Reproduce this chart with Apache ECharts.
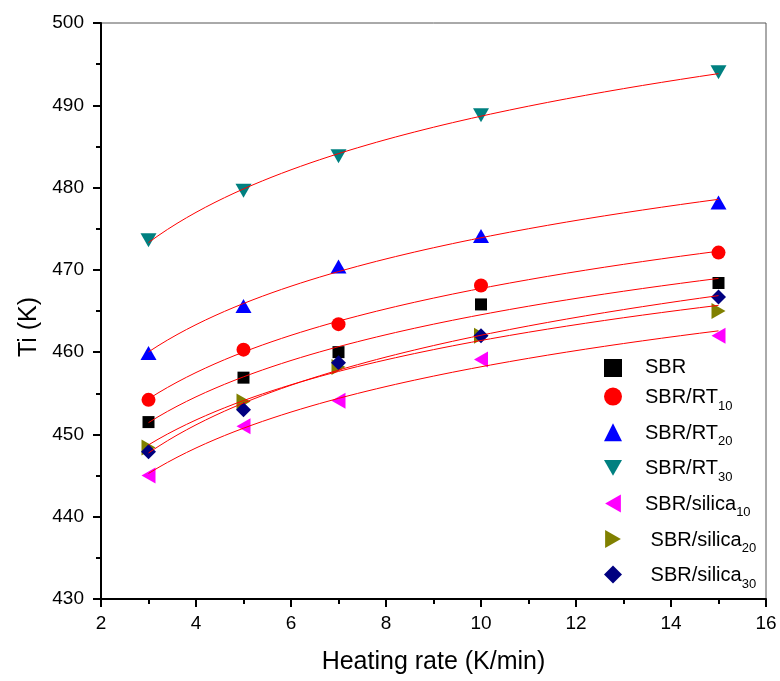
<!DOCTYPE html>
<html>
<head>
<meta charset="utf-8">
<style>
  html, body { margin: 0; padding: 0; background: #fff; }
  #chart { width: 780px; height: 681px; }
</style>
<script src="https://cdn.jsdelivr.net/npm/echarts@6/dist/echarts.min.js"></script>
</head>
<body>
<div id="chart"></div>
<script>
// Heating rates (K/min)
const heatingRates = [3, 5, 7, 10, 15];

// Initial degradation temperature Ti (K) for each compound
const tiSBR        = [451.5, 456.9, 460.0, 465.8, 468.4];
const tiRT10       = [454.2, 460.3, 463.4, 468.1, 472.1];
const tiRT20       = [459.9, 465.6, 470.4, 474.1, 478.2];
const tiRT30       = [473.6, 479.6, 483.8, 488.8, 494.0];
const tiSilica10   = [445.0, 451.0, 454.1, 459.1, 462.0];
const tiSilica20   = [448.4, 454.0, 458.2, 462.0, 465.0];
const tiSilica30   = [447.9, 453.0, 458.7, 462.0, 466.7];

// Axis ticks
const xTicks = { min: 2, max: 16, step: 2 };
const yTicks = { min: 430, max: 500, step: 10 };

const FONT = 'Liberation Sans, Arial, sans-serif';

// Marker shapes for the plot and for the legend
const TRI_DOWN  = 'path://M0,0L16,0L8,14Z';
const TRI_LEFT  = 'path://M14,0L14,16L0,8Z';
const TRI_RIGHT = 'path://M0,0L14,8L0,16Z';

const compounds = [
  { name: 'SBR',          main: 'SBR',        sub: '',   data: tiSBR,      color: '#000000', symbol: 'rect',     icon: 'rect',     size: [12, 12], rotate: 0,   shift: false },
  { name: 'SBR/RT10',     main: 'SBR/RT',     sub: '10', data: tiRT10,     color: '#ff0000', symbol: 'circle',   icon: 'circle',   size: 14,       rotate: 0,   shift: false },
  { name: 'SBR/RT20',     main: 'SBR/RT',     sub: '20', data: tiRT20,     color: '#0000ff', symbol: 'triangle', icon: 'triangle', size: [16, 14], rotate: 0,   shift: false },
  { name: 'SBR/RT30',     main: 'SBR/RT',     sub: '30', data: tiRT30,     color: '#008080', symbol: 'triangle', icon: TRI_DOWN,   size: [16, 14], rotate: 180, shift: false },
  { name: 'SBR/silica10', main: 'SBR/silica', sub: '10', data: tiSilica10, color: '#ff00ff', symbol: 'triangle', icon: TRI_LEFT,   size: [16, 14], rotate: 90,  shift: false },
  { name: 'SBR/silica20', main: 'SBR/silica', sub: '20', data: tiSilica20, color: '#808000', symbol: 'triangle', icon: TRI_RIGHT,  size: [16, 14], rotate: -90, shift: true },
  { name: 'SBR/silica30', main: 'SBR/silica', sub: '30', data: tiSilica30, color: '#000080', symbol: 'diamond',  icon: 'diamond',  size: [15, 15], rotate: 0,   shift: true }
];

// Least-squares fit Ti = a + b*ln(rate) for a compound
function logFit(xs, ys) {
  const n = xs.length;
  const lx = xs.map(Math.log);
  const mx = lx.reduce((s, v) => s + v, 0) / n;
  const my = ys.reduce((s, v) => s + v, 0) / n;
  let sxy = 0, sxx = 0;
  for (let i = 0; i < n; i++) {
    sxy += (lx[i] - mx) * (ys[i] - my);
    sxx += (lx[i] - mx) * (lx[i] - mx);
  }
  const b = sxy / sxx;
  const a = my - b * mx;
  return x => a + b * Math.log(x);
}

// Fitted curve sampled over the measured range of heating rates
function fitCurve(xs, ys) {
  const f = logFit(xs, ys);
  const x0 = xs[0], x1 = xs[xs.length - 1];
  const pts = [];
  const steps = 60;
  for (let i = 0; i <= steps; i++) {
    const x = x0 + (x1 - x0) * i / steps;
    pts.push([x, f(x)]);
  }
  return pts;
}

const series = [];
compounds.forEach(c => {
  series.push({
    name: c.name,
    type: 'scatter',
    data: heatingRates.map((x, i) => [x, c.data[i]]),
    symbol: c.symbol,
    symbolSize: c.size,
    symbolRotate: c.rotate,
    itemStyle: { color: c.color, opacity: 1 },
    z: 2,
    silent: true
  });
});
compounds.forEach(c => {
  series.push({
    name: c.name + ' fit',
    type: 'line',
    data: fitCurve(heatingRates, c.data),
    showSymbol: false,
    symbol: 'none',
    lineStyle: { color: '#ff0000', width: 1 },
    z: 3,
    silent: true
  });
});

const legendLookup = {};
compounds.forEach(c => { legendLookup[c.name] = c; });

const chart = echarts.init(document.getElementById('chart'), null, { renderer: 'canvas' });
chart.setOption({
  animation: false,
  backgroundColor: '#ffffff',
  grid: {
    left: 101, right: 14, top: 23, bottom: 82,
    show: true, borderColor: '#555555', borderWidth: 1
  },
  xAxis: {
    type: 'value',
    min: xTicks.min, max: xTicks.max, interval: xTicks.step,
    name: 'Heating rate (K/min)',
    nameLocation: 'middle',
    nameGap: 51,
    nameTextStyle: { fontFamily: FONT, fontSize: 25, color: '#000' },
    axisLine: { show: true, onZero: false, lineStyle: { color: '#000', width: 2 } },
    axisTick: { show: true, inside: false, length: 8, lineStyle: { color: '#000', width: 2 } },
    minorTick: { show: true, splitNumber: 2, length: 5, lineStyle: { color: '#000', width: 2 } },
    axisLabel: { fontFamily: FONT, fontSize: 19, color: '#000', margin: 15 },
    splitLine: { show: false }
  },
  yAxis: {
    type: 'value',
    min: yTicks.min, max: yTicks.max, interval: yTicks.step,
    name: 'Ti (K)',
    nameLocation: 'middle',
    nameGap: 56,
    nameRotate: 90,
    nameTextStyle: { fontFamily: FONT, fontSize: 25, color: '#000', padding: [0, 32, 0, 0] },
    axisLine: { show: true, onZero: false, lineStyle: { color: '#000', width: 2 } },
    axisTick: { show: true, inside: false, length: 8, lineStyle: { color: '#000', width: 2 } },
    minorTick: { show: true, splitNumber: 2, length: 5, lineStyle: { color: '#000', width: 2 } },
    axisLabel: { fontFamily: FONT, fontSize: 19, color: '#000', margin: 17 },
    splitLine: { show: false }
  },
  legend: {
    orient: 'vertical',
    left: 604,
    top: 357,
    padding: 0,
    itemGap: 3.6,
    itemWidth: 18,
    itemHeight: 18,
    data: compounds.map(c => ({ name: c.name, icon: c.icon, itemStyle: { color: c.color } })),
    formatter: name => {
      const c = legendLookup[name];
      const main = (c.shift ? ' ' : '') + c.main;
      return c.sub ? '{m|' + main + '}{s|' + c.sub + '}{g| }' : '{n|' + main + '}';
    },
    textStyle: {
      fontFamily: FONT,
      color: '#000',
      rich: {
        n: { fontFamily: FONT, fontSize: 20, lineHeight: 22, verticalAlign: 'top', color: '#000', padding: [0, 0, 0, 18] },
        m: { fontFamily: FONT, fontSize: 20, lineHeight: 22, verticalAlign: 'top', color: '#000', padding: [7, 0, 0, 18] },
        s: { fontFamily: FONT, fontSize: 13, lineHeight: 13, verticalAlign: 'bottom', color: '#000' },
        g: { fontFamily: FONT, fontSize: 2, lineHeight: 32, verticalAlign: 'top', color: '#000' }
      }
    }
  },
  series: series
});
</script>
</body>
</html>
